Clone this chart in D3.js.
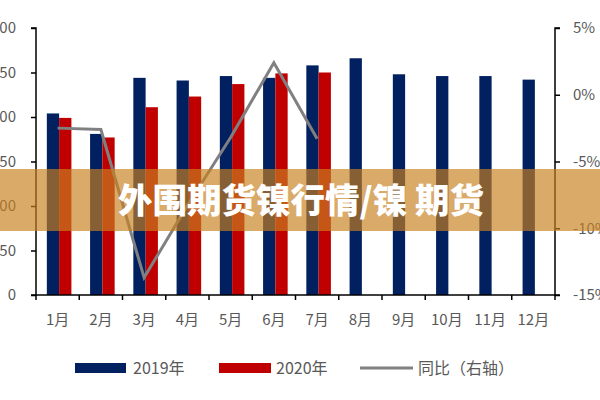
<!DOCTYPE html>
<html><head><meta charset="utf-8">
<script src="https://cdn.jsdelivr.net/npm/d3@7"></script>
<style>
html,body{margin:0;padding:0;background:#fff;}
svg{display:block;font-family:"Noto Sans CJK SC","Noto Sans",sans-serif;}
</style></head>
<body>
<svg id="c" width="600" height="400"></svg>
<script>
const months = ["1月","2月","3月","4月","5月","6月","7月","8月","9月","10月","11月","12月"];
const v2019 = [204,181,244,241,246,244,258,266,248,246,246,242];
const v2020 = [199,177,211,223,237,249,250];
const yoy = [-2.5,-2.6,-13.7,-8.3,-3.2,2.4,-3.3];
const leftTicks = [0,50,100,150,200,250,300];
const rightTicks = [-15,-10,-5,0,5];
const legendLabels = ["2019年","2020年","同比（右轴）"];
const bannerText = "外围期货镍行情/镍 期货";

const svg = d3.select("#c");
const L = 36, R = 555, T = 28, B = 295;
const x = d3.scaleBand().domain(months).range([L, R]).paddingInner(0).paddingOuter(0);
const xs = d3.scaleBand().domain(["a","b"]).range([0, x.bandwidth()]).paddingInner(0).paddingOuter(0.76).align(0.58);
const y = d3.scaleLinear().domain([0,300]).range([B, T]);
const y2 = d3.scaleLinear().domain([-15,5]).range([B, T]);
const blue = "#002060", red = "#C00000", gray = "#808080", txt = "#595959";

// bars
svg.append("g").selectAll("rect").data(v2019).join("rect")
  .attr("x",(d,i)=>x(months[i])+xs("a")).attr("width",xs.bandwidth())
  .attr("y",d=>y(d)).attr("height",d=>B-y(d)).attr("fill",blue);
svg.append("g").selectAll("rect").data(v2020).join("rect")
  .attr("x",(d,i)=>x(months[i])+xs("b")).attr("width",xs.bandwidth())
  .attr("y",d=>y(d)).attr("height",d=>B-y(d)).attr("fill",red);

// line
const line = d3.line().x((d,i)=>x(months[i])+x.bandwidth()/2).y(d=>y2(d));
svg.append("path").datum(yoy).attr("d",line).attr("fill","none")
  .attr("stroke",gray).attr("stroke-width",3).attr("stroke-linejoin","miter");

// axes
const axL = svg.append("g").attr("transform",`translate(${L},0)`)
  .call(d3.axisLeft(y).tickValues(leftTicks).tickSize(5).tickPadding(15).tickFormat(d3.format("d")));
const axR = svg.append("g").attr("transform",`translate(${R},0)`)
  .call(d3.axisRight(y2).tickValues(rightTicks).tickSize(5).tickPadding(13).tickFormat(d=>d+"%"));
const axB = svg.append("g").attr("transform",`translate(0,${B})`)
  .call(d3.axisBottom(x).tickSize(5).tickPadding(14).tickFormat(d=>d));
axB.selectAll(".tick line").remove();
axB.selectAll(".tickb").data(d3.range(13)).join("line")
  .attr("x1",i=>L+i*x.bandwidth()).attr("x2",i=>L+i*x.bandwidth())
  .attr("y1",0).attr("y2",5).attr("stroke","#000").attr("stroke-width",1.5);
[axL,axR,axB].forEach(a=>{
  a.select(".domain").attr("stroke","#000").attr("stroke-width",1.5);
  a.selectAll(".tick line").attr("stroke","#000").attr("stroke-width",1.5);
  a.selectAll("text").attr("fill",txt).attr("font-size",15)
    .attr("font-family",'"Noto Sans CJK SC","Noto Sans",sans-serif');
});
axL.select(".domain").attr("d",`M-5,${T}H0V${B}H-5`);
axR.select(".domain").attr("d",`M5,${T}H0V${B}H5`);
axB.select(".domain").attr("d",`M${L},0H${R}`);

// legend
const lg = svg.append("g");
const items = [
  {x:75, w:51, type:"rect", c:blue, tx:133},
  {x:219, w:52, type:"rect", c:red, tx:276},
  {x:360, w:53, type:"line", c:gray, tx:418}
];
items.forEach((it,i)=>{
  if(it.type==="rect") lg.append("rect").attr("x",it.x).attr("y",363).attr("width",it.w).attr("height",10).attr("fill",it.c);
  else lg.append("line").attr("x1",it.x).attr("x2",it.x+it.w).attr("y1",368).attr("y2",368).attr("stroke",it.c).attr("stroke-width",3);
  lg.append("text").attr("x",it.tx).attr("y",368).attr("dy","0.35em").attr("fill",txt).attr("font-size",16).text(legendLabels[i]);
});

// banner
svg.append("rect").attr("x",0).attr("y",169).attr("width",600).attr("height",62)
  .attr("fill","#C8801F").attr("fill-opacity",0.67);
svg.append("text").attr("x",301).attr("y",201).attr("dy","0.36em").attr("text-anchor","middle")
  .attr("fill","#fff").attr("font-size",34.5).attr("font-weight",900).text(bannerText);
</script>
</body></html>
